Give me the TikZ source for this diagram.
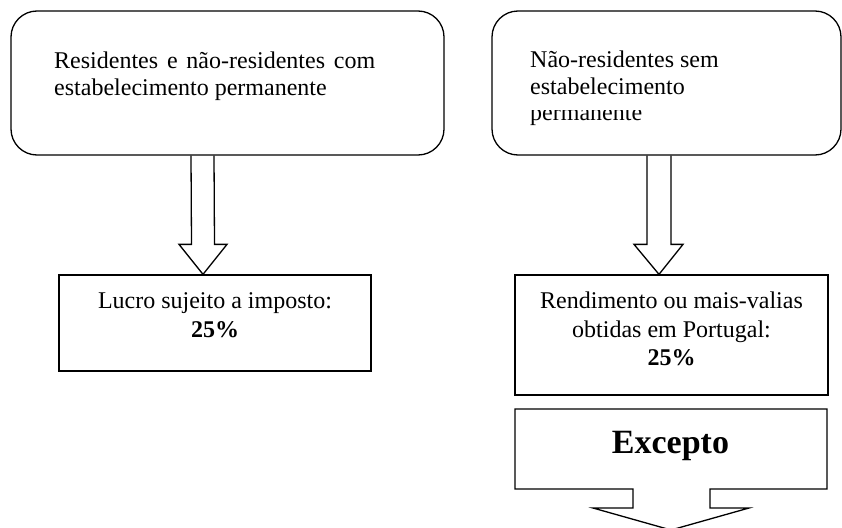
\documentclass[tikz,border=0pt]{standalone}
\usepackage{fontspec}
\setmainfont{Liberation Serif}
\usetikzlibrary{calc}
\tikzset{
  rbox/.style={draw=black, line width=1.3pt, rounded corners=26pt, inner sep=0pt},
  sbox/.style={draw=black, line width=1.3pt, inner sep=0pt},
  txt/.style={inner sep=0pt, font=\fontsize{24}{28}\selectfont},
  btxt/.style={inner sep=0pt, font=\fontsize{24}{28}\selectfont\bfseries},
  bigtxt/.style={inner sep=0pt, font=\fontsize{34}{40}\selectfont\bfseries},
  blockarrow/.style={draw=black, line width=1.3pt, line join=miter}
}
\begin{document}
\begin{tikzpicture}[x=1pt,y=-1pt]
\useasboundingbox (0,0) rectangle (842,527);
\clip (0,0) rectangle (842,527);
% top boxes
\node[rbox, minimum width=433pt, minimum height=144pt] (b1) at (227.5,83) {};
\node[rbox, minimum width=349pt, minimum height=144pt] (b2) at (666.5,83) {};
% lower boxes
\node[sbox, minimum width=312pt, minimum height=96pt] (l1) at (215,323) {};
\node[sbox, minimum width=313pt, minimum height=120pt] (l2) at (671.5,335) {};
% texts top-left
\node[txt, anchor=base west] (t1a) at (54,68) {\makebox[321pt][s]{Residentes e não-residentes com}};
\node[txt, anchor=base west] (t1b) at (54,95) {estabelecimento permanente};
% texts top-right
\node[txt, anchor=base west] (t2a) at (530,67) {Não-residentes sem};
\node[txt, anchor=base west] (t2b) at (530,94) {estabelecimento};
\begin{scope}
\clip (520,110.3) rectangle (760,140);
\node[txt, anchor=base west] (t2c) at (530,120) {permanente};
\end{scope}
% texts lower-left
\node[txt, anchor=base] (t3a) at (215,308) {Lucro sujeito a imposto:};
\node[btxt, anchor=base] (t3b) at (215,337) {25\%};
% texts lower-right
\node[txt, anchor=base] (t4a) at (671.5,308) {Rendimento ou mais-valias};
\node[txt, anchor=base] (t4b) at (671.5,337) {obtidas em Portugal:};
\node[btxt, anchor=base] (t4c) at (671.5,365) {25\%};
% block arrows
\coordinate (a1s) at (b1.south -| 202.5,0);
\coordinate (a1t) at (l1.north -| 203,0);
\draw[blockarrow] ($(a1s)+(-11.5,0)$) -- ($(a1t)+(-11.5,-30)$) -- ($(a1t)+(-24,-30)$) -- (a1t)
  -- ($(a1t)+(24,-30)$) -- ($(a1t)+(11.5,-30)$) -- ($(a1s)+(11.5,0)$);
\coordinate (a2s) at (b2.south -| 659,0);
\coordinate (a2t) at (l2.north -| 659,0);
\draw[blockarrow] ($(a2s)+(-12,0)$) -- ($(a2t)+(-12,-30)$) -- ($(a2t)+(-25,-30)$) -- (a2t)
  -- ($(a2t)+(24,-30)$) -- ($(a2t)+(12,-30)$) -- ($(a2s)+(12,0)$);
% Excepto callout
\node[bigtxt, anchor=base] (exc) at (670.5,453) {Excepto};
\coordinate (ctip) at (671,530);
\draw[blockarrow] (515,409) -- (827,409) -- (827,489) -- (710,489) -- (710,508) -- (749,508)
  -- (ctip) -- (593,508) -- (633,508) -- (633,489) -- (515,489) -- cycle;
\end{tikzpicture}
\end{document}
